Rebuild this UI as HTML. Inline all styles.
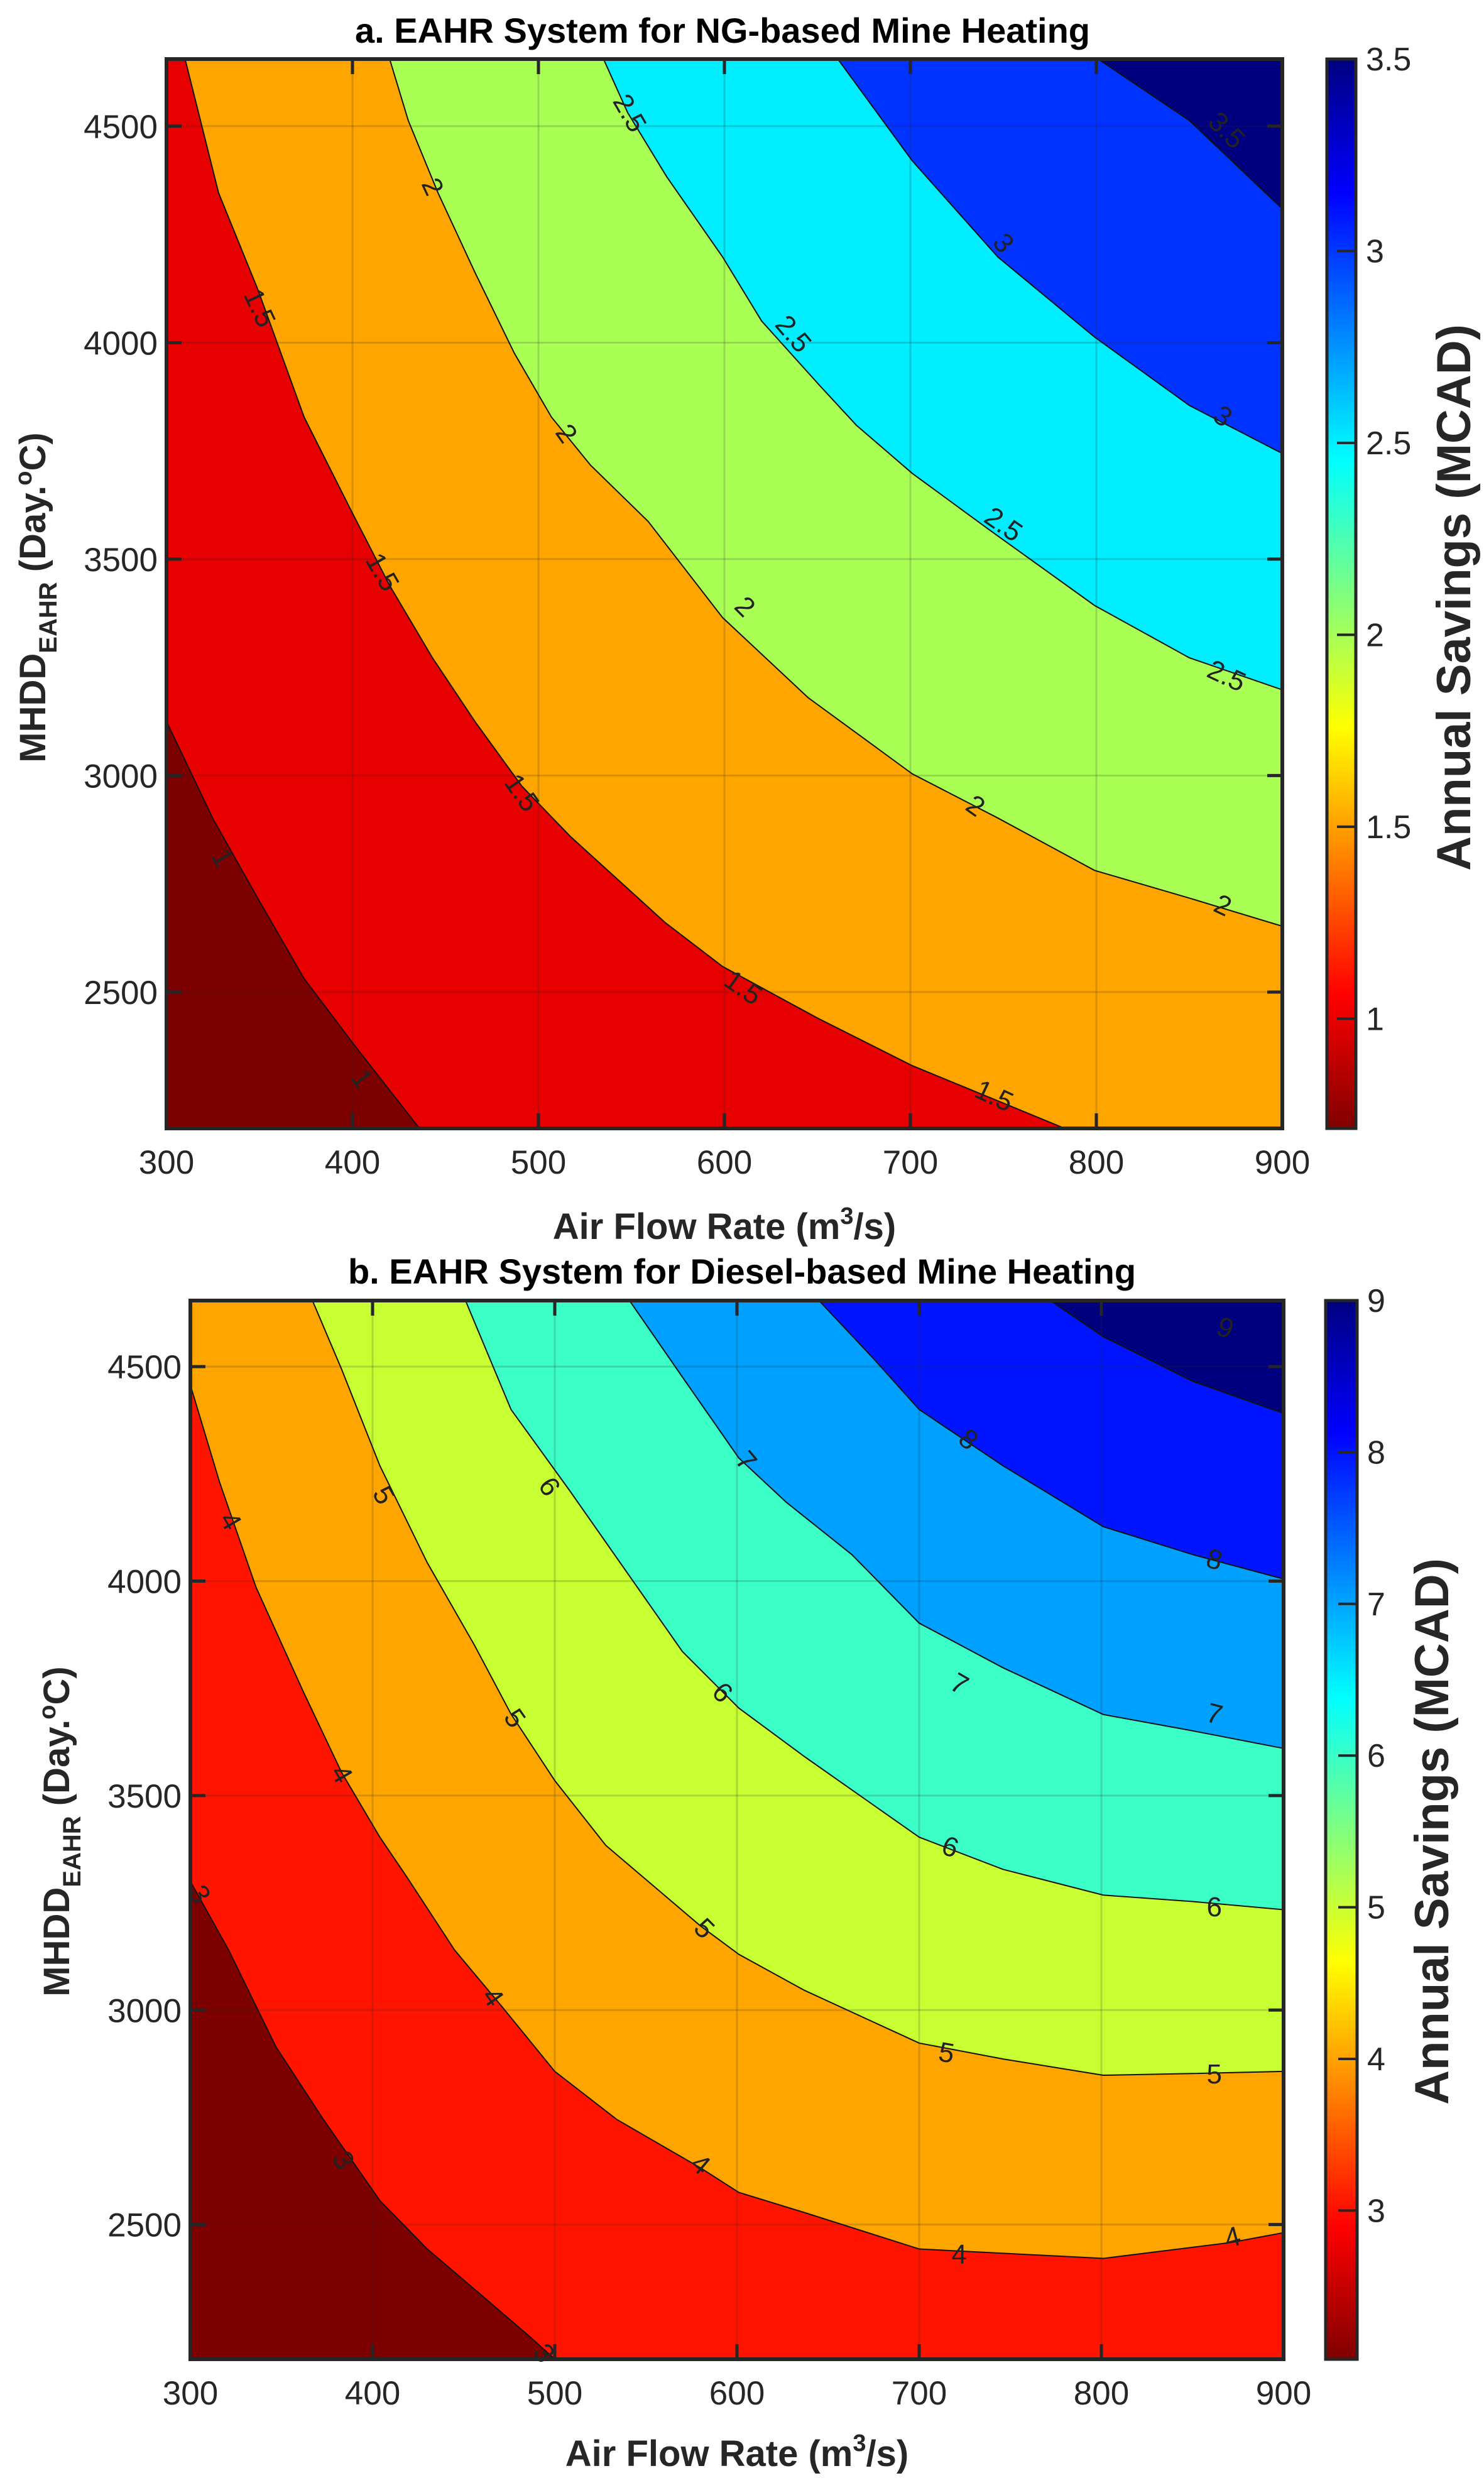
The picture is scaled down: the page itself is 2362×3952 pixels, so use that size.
<!DOCTYPE html>
<html><head><meta charset="utf-8">
<style>
html,body{margin:0;padding:0;background:#fff;}
svg{display:block;font-family:"Liberation Sans",Arial,sans-serif;}
</style></head>
<body>
<svg id="fig" xmlns="http://www.w3.org/2000/svg" width="2362" height="3952" viewBox="0 0 2362 3952">
<rect x="0" y="0" width="2362" height="3952" fill="#fff"/>
</svg>
<script>
// ---------- DATA: panel a (NG) ----------
const xTicks = [300,400,500,600,700,800,900];
const yTicks = [2500,3000,3500,4000,4500];
const levelsA = [1,1.5,2,2.5,3,3.5];
const colorsA = ["#7d0000","#e60000","#ffa500","#aaff55","#00eeff","#0033ff","#00007f"];
const cbTicksA = [1,1.5,2,2.5,3,3.5];
const lineA_1   = [[300,3125],[325,2900],[349,2717],[374,2531],[400,2383],[436,2185]];
const lineA_1p5 = [[310,4655],[328,4346],[349,4124],[374,3828],[400,3606],[420,3439],[443,3272],[466,3124],[491,2976],[517,2860],[568,2661],[599,2559],[650,2440],[701,2330],[783,2185]];
const lineA_2   = [[420,4655],[430,4513],[446,4346],[466,4161],[487,3976],[507,3828],[528,3717],[559,3587],[599,3365],[645,3180],[701,3004],[747,2902],[799,2781],[850,2717],[900,2652]];
const lineA_2p5 = [[535,4655],[548,4531],[569,4383],[599,4198],[620,4050],[651,3902],[671,3809],[701,3698],[742,3569],[799,3393],[850,3272],[900,3198]];
const lineA_3   = [[661,4655],[701,4420],[747,4198],[799,4013],[850,3855],[900,3744]];
const lineA_3p5 = [[801,4655],[850,4513],[900,4309]];
const linesA = [lineA_1,lineA_1p5,lineA_2,lineA_2p5,lineA_3,lineA_3p5];
const labelsA = [["1",330,2810,60],["1",405,2300,55],["1.5",350,4080,65],["1.5",416,3470,60],["1.5",491,2960,55],["1.5",610,2510,35],["1.5",745,2260,25],
  ["2",443,4360,65],["2",515,3790,55],["2",611,3390,45],["2",735,2930,35],["2",868,2700,25],["2.5",549,4530,60],["2.5",637,4020,50],["2.5",750,3580,35],["2.5",870,3230,25],["3",750,4230,50],["3",868,3830,35],["3.5",870,4490,45]];

// ---------- DATA: panel b (Diesel) ----------
const levelsB = [3,4,5,6,7,8,9];
const colorsB = ["#7d0000","#ff1400","#ffa500","#c8ff32","#3cffc8","#00a0ff","#0014ff","#00007f"];
const cbTicksB = [3,4,5,6,7,8,9];
const lineB_3 = [[300,3300],[321,3140],[347,2914],[373,2745],[404,2556],[430,2443],[456,2349],[487,2236],[500,2186]];
const lineB_4 = [[300,4457],[316,4231],[336,3986],[362,3742],[383,3554],[404,3403],[419,3309],[445,3140],[471,3008],[500,2857],[534,2745],[580,2632],[601,2575],[637,2528],[700,2443],[801,2421],[871,2458],[900,2481]];
const lineB_5 = [[367,4654],[383,4494],[404,4269],[430,4043],[456,3850],[476,3690],[500,3535],[528,3384],[554,3290],[580,3196],[601,3130],[637,3046],[700,2923],[746,2886],[801,2848],[850,2852],[900,2857]];
const lineB_6 = [[451,4654],[476,4400],[508,4212],[539,4024],[570,3836],[601,3704],[637,3591],[700,3403],[746,3328],[801,3268],[850,3253],[900,3234]];
const lineB_7 = [[541,4654],[570,4476],[601,4287],[627,4184],[663,4062],[700,3902],[746,3798],[801,3689],[850,3651],[900,3610]];
const lineB_8 = [[645,4654],[674,4523],[700,4400],[746,4269],[801,4127],[850,4062],[900,4005]];
const lineB_9 = [[772,4654],[801,4570],[850,4466],[900,4391]];
const linesB = [lineB_3,lineB_4,lineB_5,lineB_6,lineB_7,lineB_8,lineB_9];
const labelsB = [["3",305,3270,60],["3",384,2650,60],["3",494,2200,55],["4",322,4140,60],["4",383,3550,60],["4",466,3030,55],["4",580,2640,40],["4",722,2430,0],["4",872,2470,-15],
  ["5",406,4200,60],["5",478,3680,55],["5",582,3190,45],["5",715,2900,10],["5",862,2850,0],["6",497,4220,55],["6",592,3740,45],["6",717,3380,20],["6",862,3240,0],["7",605,4280,50],["7",722,3760,30],["7",862,3690,15],["8",727,4330,40],["8",862,4050,15],["9",868,4590,20]];

const NS="http://www.w3.org/2000/svg";
const svg=document.getElementById('fig');
function mk(tag,attrs,parent){const e=document.createElementNS(NS,tag);for(const k in attrs)e.setAttribute(k,attrs[k]);(parent||svg).appendChild(e);return e;}

function panel(cfg){
  const {L,R,T,B,ymin,ymax,levels,colors,lines,labels,cbX,cbW,cbMin,cbMax,cbTicks,title,titleX,titleY,xlabY,ylabX,ylabY,cblabX,prefix}=cfg;
  const sx=v=>L+(v-300)/600*(R-L);
  const sy=v=>B-(v-ymin)/(ymax-ymin)*(B-T);
  const g=mk('g',{});
  
  
  const bg=mk('rect',{x:L,y:T,width:R-L,height:B-T,fill:colors[0]},g);
  
  
  lines.forEach((ln,i)=>{
    const pts=ln.map(p=>[sx(p[0]),sy(p[1])]);
    const first=ln[0], last=ln[ln.length-1];
    const poly=pts.slice();
    if(last[1]<=ymin+2) poly.push([R,B]);
    poly.push([R,T]);
    if(first[0]<=302) poly.push([L,T]);
    const p=mk('polygon',{points:poly.map(q=>q.join(',')).join(' '),fill:colors[i+1]},g);
    
    
  });
  lines.forEach((ln,i)=>{
    const l=mk('polyline',{points:ln.map(p=>sx(p[0])+','+sy(p[1])).join(' '),fill:'none',stroke:'#111','stroke-width':2},g);
    
    
  });
  xTicks.forEach(v=>{const l=mk('line',{x1:sx(v),x2:sx(v),y1:T,y2:B,stroke:'rgba(40,40,40,0.18)','stroke-width':3},g);
    
    });
  yTicks.forEach(v=>{const l=mk('line',{x1:L,x2:R,y1:sy(v),y2:sy(v),stroke:'rgba(40,40,40,0.18)','stroke-width':3},g);
    
    });
  labels.forEach(lb=>{
    const x=sx(lb[1]),y=sy(lb[2]);
    const t=mk('text',{x:x,y:y,'font-size':44,fill:'#222','text-anchor':'middle','dominant-baseline':'central',transform:`rotate(${lb[3]} ${x} ${y})`},g);
    t.textContent=lb[0];
    
    
  });
  xTicks.forEach(v=>{
    mk('line',{x1:sx(v),x2:sx(v),y1:B,y2:B-24,stroke:'#262626','stroke-width':5},g);
    mk('line',{x1:sx(v),x2:sx(v),y1:T,y2:T+24,stroke:'#262626','stroke-width':5},g);
    const t=mk('text',{x:sx(v),y:B+72,'font-size':53,fill:'#262626','text-anchor':'middle'},g);
    t.textContent=v;
    
    
  });
  yTicks.forEach(v=>{
    mk('line',{x1:L,x2:L+24,y1:sy(v),y2:sy(v),stroke:'#262626','stroke-width':5},g);
    mk('line',{x1:R,x2:R-24,y1:sy(v),y2:sy(v),stroke:'#262626','stroke-width':5},g);
    const t=mk('text',{x:L-14,y:sy(v)+19,'font-size':53,fill:'#262626','text-anchor':'end'},g);
    t.textContent=v;
    
    
  });
  const box=mk('rect',{x:L,y:T,width:R-L,height:B-T,fill:'none',stroke:'#262626','stroke-width':6},g);
  
  
  const tt=mk('text',{x:titleX,y:titleY,'font-size':56,'font-weight':'bold',fill:'#000','text-anchor':'middle'},g);
  tt.textContent=title;
  
  
  const xl=mk('text',{x:(L+R)/2,y:xlabY,'font-size':58,'font-weight':'bold',fill:'#262626','text-anchor':'middle'},g);
  xl.innerHTML='Air Flow Rate (m<tspan font-size="38" dy="-24">3</tspan><tspan dy="24">/s)</tspan>';
  
  
  const yl=mk('text',{x:ylabX,y:ylabY,'font-size':58,'font-weight':'bold',fill:'#262626','text-anchor':'middle',transform:`rotate(-90 ${ylabX} ${ylabY})`},g);
  yl.innerHTML='MHDD<tspan font-size="40" dy="18">EAHR</tspan><tspan dy="-18"> (Day.</tspan><tspan font-size="38" dy="-22">o</tspan><tspan dy="22">C)</tspan>';
  
  
  const gid=prefix+'-jet';
  const defs=mk('defs',{},g);
  const lg=mk('linearGradient',{id:gid,x1:0,y1:1,x2:0,y2:0},defs);
  [[0,'#800000'],[0.125,'#ff0000'],[0.375,'#ffff00'],[0.625,'#00ffff'],[0.875,'#0000ff'],[1,'#000080']].forEach(s=>mk('stop',{offset:s[0],'stop-color':s[1]},lg));
  const cb=mk('rect',{x:cbX,y:T,width:cbW,height:B-T,fill:`url(#${gid})`,stroke:'#262626','stroke-width':5},g);
  
  
  const cy=v=>B-(v-cbMin)/(cbMax-cbMin)*(B-T);
  cbTicks.forEach(v=>{
    mk('line',{x1:cbX+cbW,x2:cbX+cbW-30,y1:cy(v),y2:cy(v),stroke:'#262626','stroke-width':4},g);
    const t=mk('text',{x:cbX+cbW+16,y:cy(v)+18,'font-size':52,fill:'#262626'},g);
    t.textContent=v;
    
    
  });
  const cl=mk('text',{x:cblabX,y:ylabY,'font-size':76,'font-weight':'bold',fill:'#262626','text-anchor':'middle',transform:`rotate(-90 ${cblabX} ${ylabY})`},g);
  cl.textContent='Annual Savings (MCAD)';
  
  
}

panel({L:265,R:2041,T:94,B:1796,ymin:2185,ymax:4655,levels:levelsA,colors:colorsA,lines:linesA,labels:labelsA,
  cbX:2112,cbW:46,cbMin:0.714,cbMax:3.5,cbTicks:cbTicksA,title:'a. EAHR System for NG-based Mine Heating',
  titleX:1150,titleY:68,xlabY:1972,ylabX:72,ylabY:951,cblabX:2340,prefix:'panel-a'});
panel({L:303,R:2043,T:2070,B:3755,ymin:2186,ymax:4654,levels:levelsB,colors:colorsB,lines:linesB,labels:labelsB,
  cbX:2110,cbW:50,cbMin:2.02,cbMax:9,cbTicks:cbTicksB,title:'b. EAHR System for Diesel-based Mine Heating',
  titleX:1181,titleY:2043,xlabY:3925,ylabX:110,ylabY:2915,cblabX:2305,prefix:'panel-b'});
</script>
</body></html>
